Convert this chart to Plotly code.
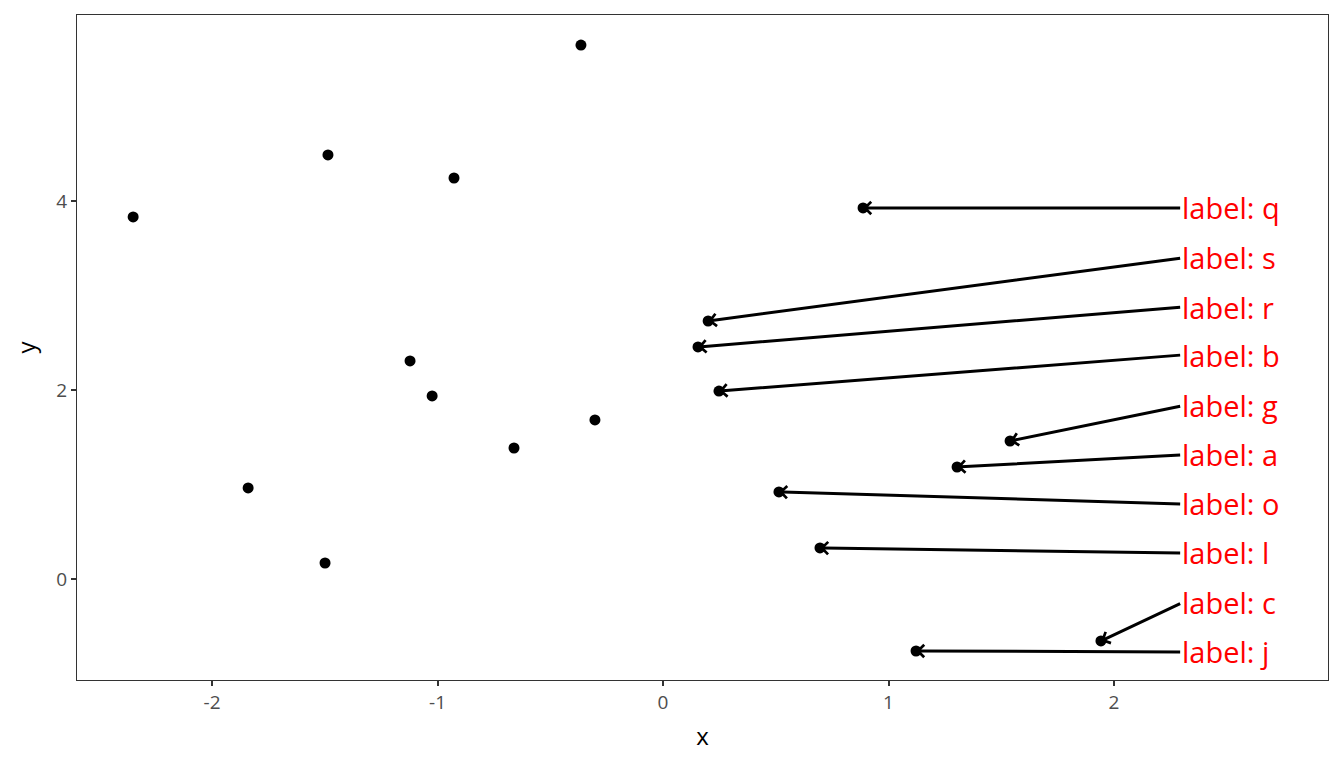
import plotly.graph_objects as go

# unlabeled points
x_plain = [-0.364, -1.486, -0.927, -2.350, -1.122, -1.024, -0.302, -0.661, -1.840, -1.499]
y_plain = [5.65, 4.487, 4.243, 3.831, 2.307, 1.937, 1.683, 1.386, 0.963, 0.169]

# labeled points
lab_names = ["q", "s", "r", "b", "g", "a", "o", "l", "c", "j"]
x_lab = [0.887, 0.200, 0.155, 0.248, 1.539, 1.304, 0.514, 0.696, 1.942, 1.122]
y_lab = [3.926, 2.730, 2.455, 1.989, 1.460, 1.185, 0.921, 0.328, -0.656, -0.762]
# label text positions
lab_x = 2.3
lab_y = [3.926, 3.397, 2.878, 2.370, 1.831, 1.312, 0.794, 0.275, -0.254, -0.772]

FONT = "Open Sans"

fig = go.Figure()
fig.add_trace(go.Scatter(x=x_plain + x_lab, y=y_plain + y_lab, mode="markers",
                         marker=dict(color="black", size=11), showlegend=False, hoverinfo="skip"))

ann = []
for n, px, py, ly in zip(lab_names, x_lab, y_lab, lab_y):
    ann.append(dict(x=px, y=py, ax=lab_x, ay=ly, xref="x", yref="y", axref="x", ayref="y",
                    text="", showarrow=True, arrowhead=4, arrowsize=0.8, arrowwidth=3,
                    arrowcolor="black", standoff=0))
    ann.append(dict(x=lab_x, y=ly, xref="x", yref="y", text="label: " + n, showarrow=False,
                    xanchor="left", yanchor="middle", xshift=-2, yshift=0,
                    font=dict(family=FONT, size=29, color="red")))

fig.update_layout(
    width=1344, height=768,
    margin=dict(l=77, r=16, t=15, b=88),
    plot_bgcolor="white", paper_bgcolor="white",
    annotations=ann,
    font=dict(family=FONT),
    xaxis=dict(range=[-2.599, 2.949], tickvals=[-2, -1, 0, 1, 2], ticktext=["-2", "-1", "0", "1", "2"],
               showgrid=False, zeroline=False, showline=True, mirror=True, linecolor="#333333", linewidth=1,
               ticks="outside", ticklen=5, tickcolor="#333333", tickwidth=1.5,
               tickfont=dict(family=FONT, size=19, color="#4D4D4D"),
               title=dict(text="x", font=dict(family=FONT, size=24, color="black"), standoff=14)),
    yaxis=dict(range=[-1.069, 5.968], tickvals=[0, 2, 4], ticktext=["0", "2", "4"],
               showgrid=False, zeroline=False, showline=True, mirror=True, linecolor="#333333", linewidth=1,
               ticks="outside", ticklen=5, tickcolor="#333333", tickwidth=1.5,
               tickfont=dict(family=FONT, size=19, color="#4D4D4D"),
               title=dict(text="y", font=dict(family=FONT, size=24, color="black"), standoff=13)),
)
fig.write_html("out.html", config={"displayModeBar": False},
               post_script="document.body.style.margin='0';document.body.style.overflow='hidden';")
